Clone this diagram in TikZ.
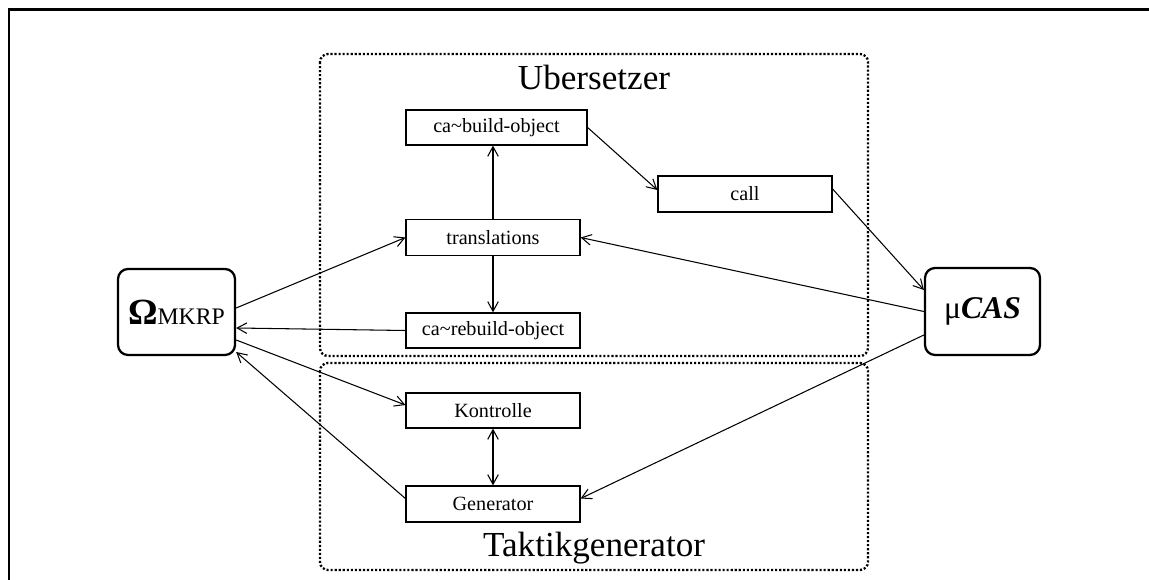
\documentclass[tikz,border=0pt]{standalone}
\usepackage{fontspec}
\setmainfont{Liberation Serif}
\usetikzlibrary{arrows.meta}
\tikzset{
  procbox/.style={draw, line width=0.7pt, minimum height=0.7cm, inner sep=0pt, font=\fontsize{11.5}{13}\selectfont},
  sysbox/.style={draw, line width=1.3pt, rounded corners=0.2cm, inner sep=0pt},
  groupbox/.style={line width=1.3pt, dash pattern=on 1.2pt off 1.1pt, rounded corners=0.16cm},
  grouplabel/.style={font=\fontsize{20}{24}\selectfont, anchor=base, inner sep=0pt},
  conn/.style={line width=0.6pt, -{Straight Barb[length=5.5pt,width=6pt]}},
  dconn/.style={line width=0.6pt, {Straight Barb[length=5.5pt,width=6pt]}-{Straight Barb[length=5.5pt,width=6pt]}},
  frameline/.style={line width=1.7pt}
}
\begin{document}
\begin{tikzpicture}[x=0.02cm,y=-0.02cm]
\useasboundingbox (0,0) rectangle (1149,580);
% frame
\coordinate (fbl) at (9,580);
\coordinate (ftl) at (9,10);
\coordinate (ftr) at (1149,10);
\draw[frameline] (fbl) -- (ftl) -- (ftr);
% group boxes
\draw[groupbox] (320,54) rectangle (868,356);
\draw[groupbox] (320,363) rectangle (868,570);
\node[grouplabel] (ublab) at (594,90) {Ubersetzer};
\node[grouplabel] (tglab) at (594,556) {Taktikgenerator};
% process boxes
\node[procbox, minimum width=3.62cm] (bo) at (496.5,127.5) {ca\char`\~build-object};
\node[procbox, minimum width=3.48cm, minimum height=0.72cm] (call) at (745,194) {call};
\node[procbox, minimum width=3.48cm, minimum height=0.72cm] (tr) at (493,237.5) {translations};
\node[procbox, minimum width=3.48cm] (rb) at (493,330.5) {ca\char`\~rebuild-object};
\node[procbox, minimum width=3.48cm] (ko) at (493,410.5) {Kontrolle};
\node[procbox, minimum width=3.48cm, minimum height=0.72cm] (gen) at (493,504) {Generator};
% systems
\node[sysbox, minimum width=2.34cm, minimum height=1.72cm] (om) at (176.5,312)
  {{\fontsize{21}{24}\selectfont\bfseries Ω}{\fontsize{13.5}{16}\selectfont MKRP}};
\node[sysbox, minimum width=2.30cm, minimum height=1.74cm] (mu) at (982.5,311.5)
  {{\fontsize{18}{22}\selectfont μ\textbf{\textit{CAS}}}};
% connectors
\draw[conn] ([yshift=0.08cm]om.east) -- (tr.west);
\draw[conn] (rb.west) -- ([yshift=-0.32cm]om.east);
\draw[conn] ([yshift=-0.56cm]om.east) -- ([yshift=0.11cm]ko.west);
\draw[conn] ([yshift=0.11cm]gen.west) -- ([yshift=-0.8cm]om.east);
\draw[conn] (tr.north) -- (tr.north |- bo.south);
\draw[conn] (tr.south) -- (rb.north);
\draw[conn] (bo.east) -- ([yshift=0.08cm]call.west);
\draw[conn] ([yshift=0.1cm]call.east) -- ([yshift=0.43cm]mu.west);
\draw[conn] (mu.west) -- (tr.east);
\draw[conn] ([yshift=-0.47cm]mu.west) -- ([yshift=0.11cm]gen.east);
\draw[dconn] (ko.south) -- (gen.north);
\end{tikzpicture}
\end{document}
